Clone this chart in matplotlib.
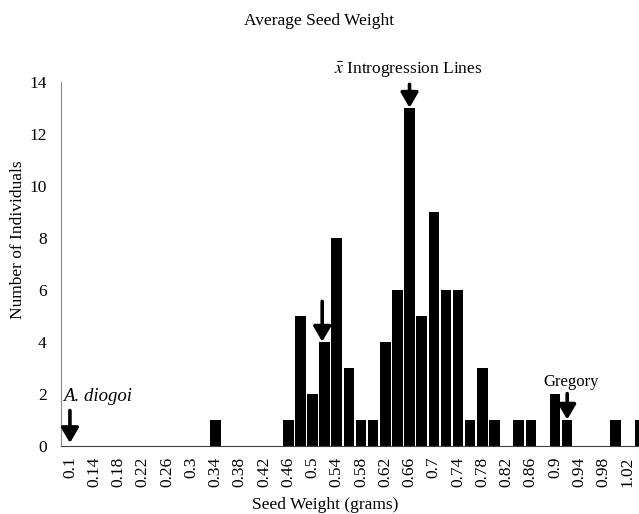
import matplotlib
matplotlib.use("Agg")
import matplotlib.pyplot as plt
import numpy as np

plt.rcParams.update({'font.family': 'Liberation Serif', 'mathtext.fontset': 'stix'})

# seed weight bins (grams) and number of individuals per bin
bins = [0.10, 0.12, 0.14, 0.16, 0.18, 0.20, 0.22, 0.24, 0.26, 0.28,
        0.30, 0.32, 0.34, 0.36, 0.38, 0.40, 0.42, 0.44, 0.46, 0.48,
        0.50, 0.52, 0.54, 0.56, 0.58, 0.60, 0.62, 0.64, 0.66, 0.68,
        0.70, 0.72, 0.74, 0.76, 0.78, 0.80, 0.82, 0.84, 0.86, 0.88,
        0.90, 0.92, 0.94, 0.96, 0.98, 1.00, 1.02, 1.04]
counts = [0, 0, 0, 0, 0, 0, 0, 0, 0, 0,
          0, 0, 1, 0, 0, 0, 0, 0, 1, 5,
          2, 4, 8, 3, 1, 1, 4, 6, 13, 5,
          9, 6, 6, 1, 3, 1, 0, 1, 1, 0,
          2, 1, 0, 0, 0, 1, 0, 1]
tick_labels = ["{:g}".format(b) for b in bins]

# arrows: (bin, label)
marks = [(0.10, "A. diogoi"), (0.52, ""), (0.66, r"$\bar{x}$ Introgression Lines"), (0.92, "Gregory")]

fig = plt.figure(figsize=(6.39, 5.14), dpi=100)
ax = fig.add_axes([0.095, 0.133, 0.916, 0.708])

x = np.arange(len(bins))
ax.bar(x, counts, width=0.87, color="black")

ax.set_xlim(-0.76, 47.5)
ax.set_ylim(0, 14)
ax.set_yticks(range(0, 15, 2))
ax.set_xticks(x[::2])
ax.set_xticklabels(tick_labels[::2], rotation=90, fontsize=12.5)
ax.tick_params(axis="y", labelsize=12.5, length=0, pad=10)
ax.tick_params(axis="x", length=0, pad=8)
for s in ["top", "right"]:
    ax.spines[s].set_visible(False)
ax.spines["left"].set_color("#8c8c8c")
ax.spines["bottom"].set_color("#404040")

ax.set_xlabel("Seed Weight (grams)", fontsize=12.5)
ax.xaxis.set_label_coords(0.452, -0.14)
ax.set_ylabel("Number of Individuals", fontsize=12.5)
ax.yaxis.set_label_coords(-0.059, 0.565)
fig.suptitle("Average Seed Weight", fontsize=12.5, y=0.975)

arrow = dict(arrowstyle="-|>,head_length=0.6,head_width=0.35", lw=2.6, color="black",
             mutation_scale=15, shrinkA=0, shrinkB=0)
for b, label in marks:
    i = bins.index(b)
    h = counts[i]
    if b == 0.10:
        ax.annotate("", xy=(i, 0.1), xytext=(i, 1.35), arrowprops=arrow)
        ax.text(i - 0.55, 1.55, label, style="italic", fontsize=13.5, ha="left", va="bottom")
    elif b == 0.52:
        ax.annotate("", xy=(i - 0.2, h), xytext=(i - 0.2, h + 1.55), arrowprops=arrow)
    elif b == 0.66:
        ax.annotate("", xy=(i, h), xytext=(i, h + 0.9), arrowprops=arrow)
        ax.text(i - 0.1, h + 1.05, label, fontsize=12.5, ha="center", va="bottom")
    else:
        ax.annotate("", xy=(i, h), xytext=(i, h + 1.0), arrowprops=arrow)
        ax.text(i + 0.3, h + 1.15, label, fontsize=12, ha="center", va="bottom")

fig.savefig("out.png", dpi=100)
